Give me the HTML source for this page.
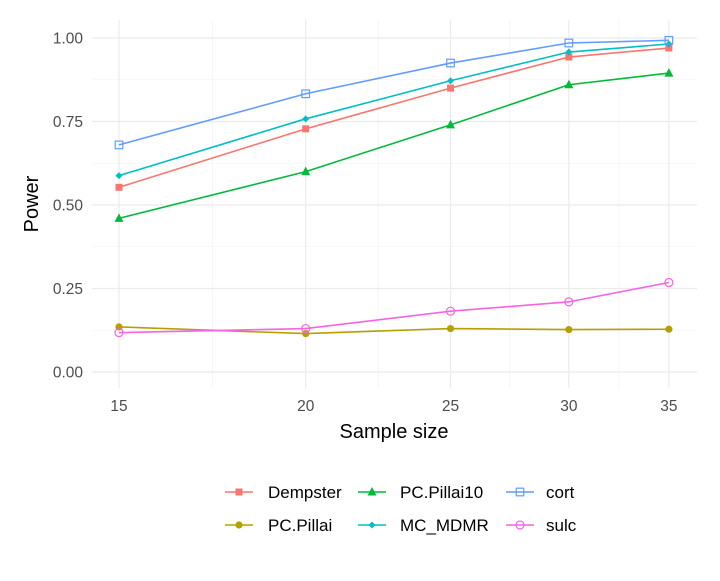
<!DOCTYPE html>
<html><head><meta charset="utf-8"><style>
body{margin:0;background:#fff;font-family:"Liberation Sans",Arial,sans-serif}
</style></head><body>
<svg id="chart" width="720" height="576" xmlns="http://www.w3.org/2000/svg" font-family="Liberation Sans, Arial, sans-serif"></svg>
<script>
const sampleSizes=[15,20,25,30,35];
const dempster=[0.553,0.728,0.85,0.943,0.97];
const pcPillai=[0.135,0.115,0.13,0.127,0.128];
const pcPillai10=[0.46,0.60,0.74,0.86,0.895];
const mcMdmr=[0.588,0.758,0.872,0.958,0.982];
const cort=[0.68,0.833,0.925,0.985,0.993];
const sulc=[0.118,0.13,0.182,0.21,0.268];
const yTicks=[0,0.25,0.5,0.75,1];
const yTickLabels=["0.00","0.25","0.50","0.75","1.00"];
const xTicks=[15,20,25,30,35];

const svg=document.getElementById('chart');
const NS="http://www.w3.org/2000/svg";
function mk(t,a,p){const e=document.createElementNS(NS,t);for(const k in a)e.setAttribute(k,a[k]);(p||svg).appendChild(e);return e;}
const x=v=>119+(Math.log(v)-Math.log(15))*649;
const y=v=>372-v*334;
const L=92,R=697,T=20,B=388;

const grid=mk('g',{});


for(let i=0;i<yTicks.length-1;i++){const m=(yTicks[i]+yTicks[i+1])/2;mk('line',{x1:L,x2:R,y1:y(m),y2:y(m),stroke:'#f0f0f0','stroke-width':0.6},grid);}
for(let i=0;i<xTicks.length-1;i++){const m=Math.sqrt(xTicks[i]*xTicks[i+1]);mk('line',{x1:x(m),x2:x(m),y1:T,y2:B,stroke:'#f0f0f0','stroke-width':0.6},grid);}
yTicks.forEach((t,i)=>{mk('line',{x1:L,x2:R,y1:y(t),y2:y(t),stroke:'#ebebeb','stroke-width':1.2},grid);
 const tx=mk('text',{x:83,y:y(t)+5.5,'text-anchor':'end','font-size':15.5,fill:'#4d4d4d'});tx.textContent=yTickLabels[i];
 });
xTicks.forEach(t=>{mk('line',{x1:x(t),x2:x(t),y1:T,y2:B,stroke:'#ebebeb','stroke-width':1.2},grid);
 const tx=mk('text',{x:x(t),y:411,'text-anchor':'middle','font-size':15.5,fill:'#4d4d4d'});tx.textContent=t;
 });

const xt=mk('text',{x:394,y:438,'text-anchor':'middle','font-size':20,fill:'#000'});xt.textContent='Sample size';

const yt=mk('text',{x:38,y:204,'text-anchor':'middle','font-size':20,fill:'#000',transform:'rotate(-90 38 204)'});yt.textContent='Power';


function marker(g,shape,cx,cy,c){
 if(shape==='square')mk('rect',{x:cx-3.5,y:cy-3.5,width:7,height:7,fill:c},g);
 else if(shape==='circle')mk('circle',{cx,cy,r:3.6,fill:c},g);
 else if(shape==='triangle')mk('polygon',{points:`${cx},${cy-5} ${cx-4.5},${cy+3.5} ${cx+4.5},${cy+3.5}`,fill:c},g);
 else if(shape==='diamond')mk('polygon',{points:`${cx},${cy-3.5} ${cx-3.5},${cy} ${cx},${cy+3.5} ${cx+3.5},${cy}`,fill:c},g);
 else if(shape==='osquare')mk('rect',{x:cx-3.8,y:cy-3.8,width:7.6,height:7.6,fill:'none',stroke:c,'stroke-width':1.2},g);
 else if(shape==='ocircle')mk('circle',{cx,cy,r:4,fill:'none',stroke:c,'stroke-width':1.2},g);
}
const series=[
 {name:'Dempster',vals:dempster,c:'#F8766D',s:'square',lx:239,tx:268,ly:492},
 {name:'PC.Pillai',vals:pcPillai,c:'#B79F00',s:'circle',lx:239,tx:268,ly:525},
 {name:'PC.Pillai10',vals:pcPillai10,c:'#00BA38',s:'triangle',lx:372,tx:400,ly:492},
 {name:'MC_MDMR',vals:mcMdmr,c:'#00BFC4',s:'diamond',lx:372,tx:400,ly:525},
 {name:'cort',vals:cort,c:'#619CFF',s:'osquare',lx:520,tx:546,ly:492},
 {name:'sulc',vals:sulc,c:'#F564E3',s:'ocircle',lx:520,tx:546,ly:525}
];
series.forEach(se=>{
 const g=mk('g',{});
 
 
 mk('polyline',{points:se.vals.map((v,i)=>x(sampleSizes[i])+','+y(v)).join(' '),fill:'none',stroke:se.c,'stroke-width':1.6},g);
 se.vals.forEach((v,i)=>marker(g,se.s,x(sampleSizes[i]),y(v),se.c));
 const lg=mk('g',{});
 
 
 mk('line',{x1:se.lx-14,x2:se.lx+14,y1:se.ly,y2:se.ly,stroke:se.c,'stroke-width':1.6},lg);
 marker(lg,se.s,se.lx,se.ly,se.c);
 const t=mk('text',{x:se.tx,y:se.ly+6,'font-size':17,fill:'#000'},lg);t.textContent=se.name;
});
</script>
</body></html>
